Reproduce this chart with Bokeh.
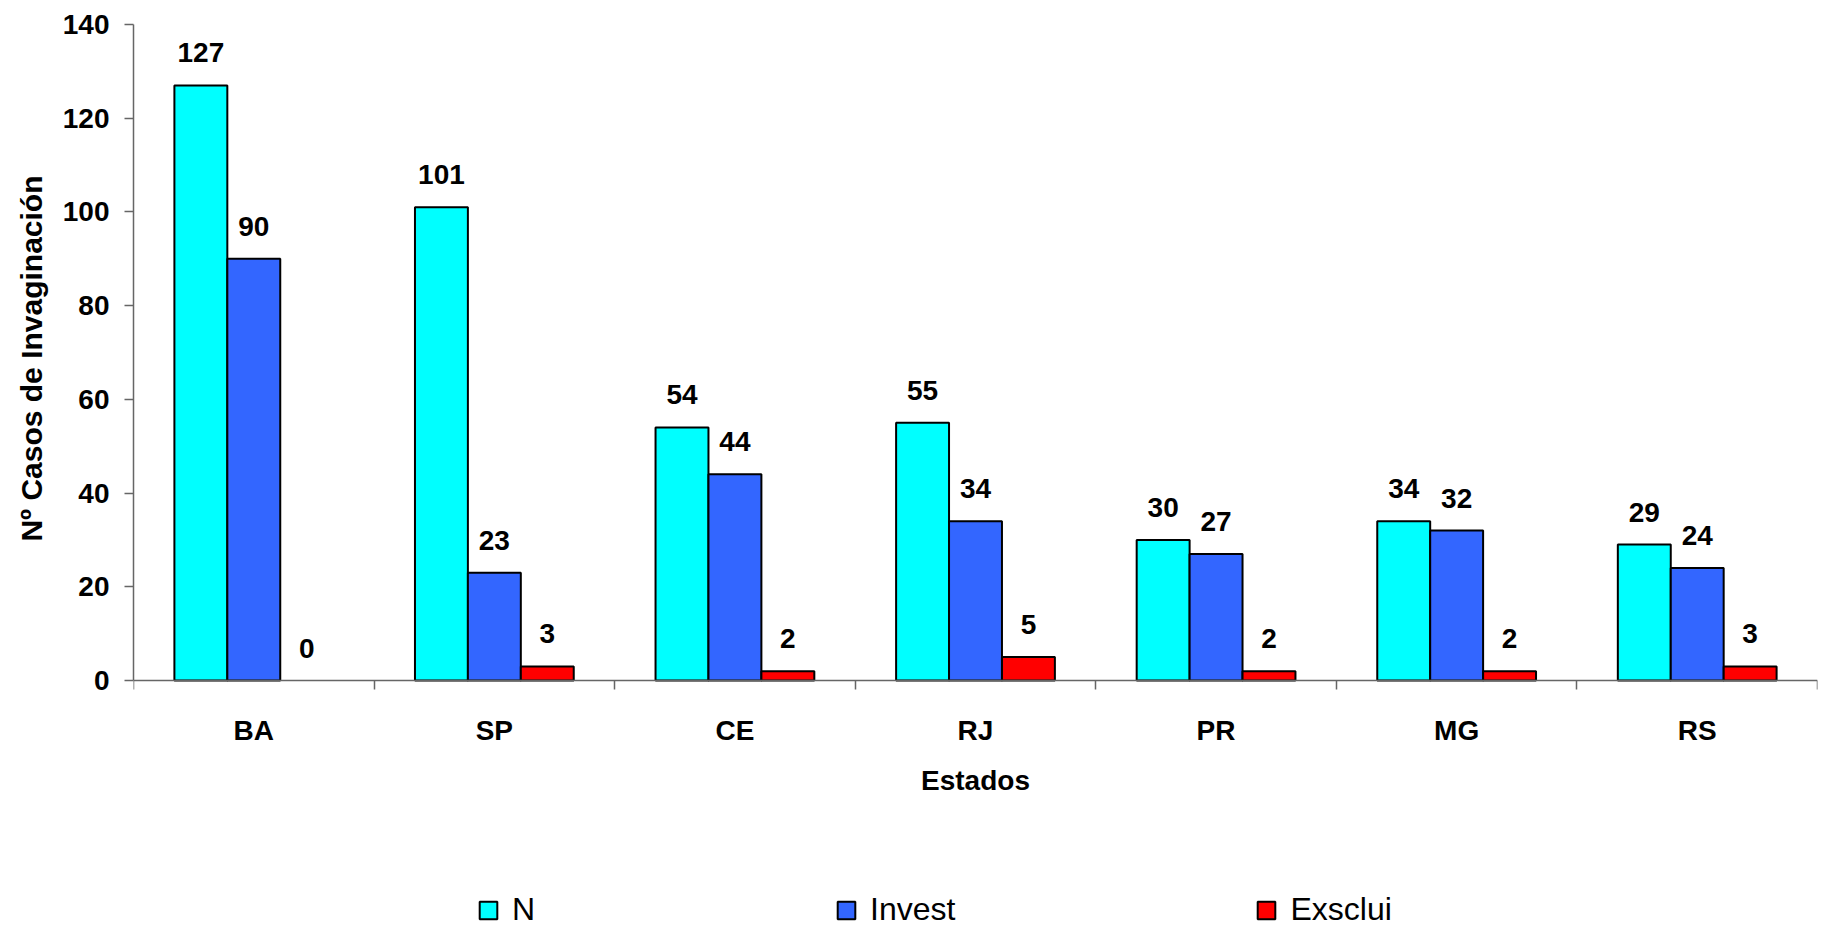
import numpy as np
from bokeh.plotting import figure
from bokeh.models import (ColumnDataSource, Range1d, FixedTicker, LabelSet,
                          Legend, LegendItem, Title)
from bokeh.core.properties import value
from bokeh.embed import file_html
from bokeh.resources import INLINE

states = ["BA", "SP", "CE", "RJ", "PR", "MG", "RS"]
n_vals = [127, 101, 54, 55, 30, 34, 29]
invest_vals = [90, 23, 44, 34, 27, 32, 24]
exsclui_vals = [0, 3, 2, 5, 2, 2, 3]
series_names = ["N", "Invest", "Exsclui"]
series_colors = ["#00FFFF", "#3366FF", "#FF0000"]
y_ticks = [0, 20, 40, 60, 80, 100, 120, 140]
y_title = "Nº Casos de Invaginación"
x_title = "Estados"

FONT = "Liberation Sans"
BAR_W = 0.22
W, H = 1822, 928
TOP, BASE = 24, 680          # pixel rows of 140 and of 0
Y_MAX = 140
# room under the baseline for the axis texts and the legend
y_min = -Y_MAX * (H - BASE) / (BASE - TOP)
centers = np.arange(len(states)) + 0.5

p = figure(width=W, height=H, output_backend="svg", toolbar_location=None,
           x_range=Range1d(0, len(states)), y_range=Range1d(y_min, Y_MAX),
           min_border_left=133, min_border_right=5, min_border_top=TOP,
           min_border_bottom=0)
p.outline_line_color = None
p.xgrid.visible = False
p.ygrid.visible = False
p.background_fill_color = "white"

renderers = []
all_vals = [n_vals, invest_vals, exsclui_vals]
offsets = [-BAR_W, 0.0, BAR_W]
label_x, label_y, label_t = [], [], []
for vals, off, col in zip(all_vals, offsets, series_colors):
    xs = centers + off
    src = ColumnDataSource(dict(x=xs, top=vals,
                                la=[0.0 if v == 0 else 1.0 for v in vals]))
    r = p.vbar(x="x", top="top", width=BAR_W, bottom=0, source=src,
               fill_color=col, line_color="black", line_width=2,
               line_alpha="la")
    renderers.append(r)
    label_x.extend(xs)
    label_y.extend(vals)
    label_t.extend([str(v) for v in vals])

lsrc = ColumnDataSource(dict(x=label_x, y=label_y, t=label_t))
labels = LabelSet(x="x", y="y", text="t", source=lsrc, y_offset=23,
                  text_align="center", text_baseline="alphabetic",
                  text_font=value(FONT), text_font_style="bold",
                  text_font_size="28px", text_color="black")
p.add_layout(labels)

axis_col = "#666666"
# x axis, drawn at y = 0
p.xaxis.fixed_location = 0
p.xaxis.ticker = FixedTicker(ticks=list(centers),
                             minor_ticks=list(range(len(states) + 1)))
p.xaxis.major_label_overrides = {float(c): s for c, s in zip(centers, states)}
p.xaxis.major_tick_out = 0
p.xaxis.major_tick_in = 0
p.xaxis.minor_tick_out = 9
p.xaxis.minor_tick_in = 0
p.xaxis.minor_tick_line_color = axis_col
p.xaxis.minor_tick_line_width = 1.5
p.xaxis.axis_line_color = axis_col
p.xaxis.axis_line_width = 1.5
p.xaxis.major_label_standoff = 25
p.xaxis.major_label_text_font = FONT
p.xaxis.major_label_text_font_style = "bold"
p.xaxis.major_label_text_font_size = "28px"
p.xaxis.major_label_text_color = "black"
p.xaxis.axis_label = x_title
p.xaxis.axis_label_standoff = 16
p.xaxis.axis_label_text_font = FONT
p.xaxis.axis_label_text_font_style = "bold"
p.xaxis.axis_label_text_font_size = "28px"
p.xaxis.axis_label_text_color = "black"

# y axis
p.yaxis.bounds = (0, Y_MAX)
p.yaxis.ticker = FixedTicker(ticks=y_ticks, minor_ticks=[])
p.yaxis.major_tick_out = 9
p.yaxis.major_tick_in = 0
p.yaxis.major_tick_line_color = axis_col
p.yaxis.major_tick_line_width = 1.5
p.yaxis.axis_line_color = axis_col
p.yaxis.axis_line_width = 1.5
p.yaxis.major_label_standoff = 15
p.yaxis.major_label_text_font = FONT
p.yaxis.major_label_text_font_style = "bold"
p.yaxis.major_label_text_font_size = "28px"
p.yaxis.major_label_text_color = "black"

# y axis title, centred on the 0..140 span of the axis
ytitle = Title(text=y_title, align="right", offset=151, standoff=23,
               vertical_align="bottom",
               text_font=FONT, text_font_style="bold",
               text_font_size="30px", text_color="black")
p.add_layout(ytitle, "left")

legend = Legend(items=[LegendItem(label=nm, renderers=[r], index=1)
                       for nm, r in zip(series_names, renderers)],
                orientation="horizontal", location=(344, 0),
                padding=0, margin=0, spacing=300, label_standoff=13,
                glyph_width=22, glyph_height=22,
                label_text_font=FONT, label_text_font_size="32px",
                label_text_color="black",
                border_line_color=None, background_fill_alpha=0)
p.add_layout(legend, "center")

open("out.html", "w").write(file_html(p, INLINE))
